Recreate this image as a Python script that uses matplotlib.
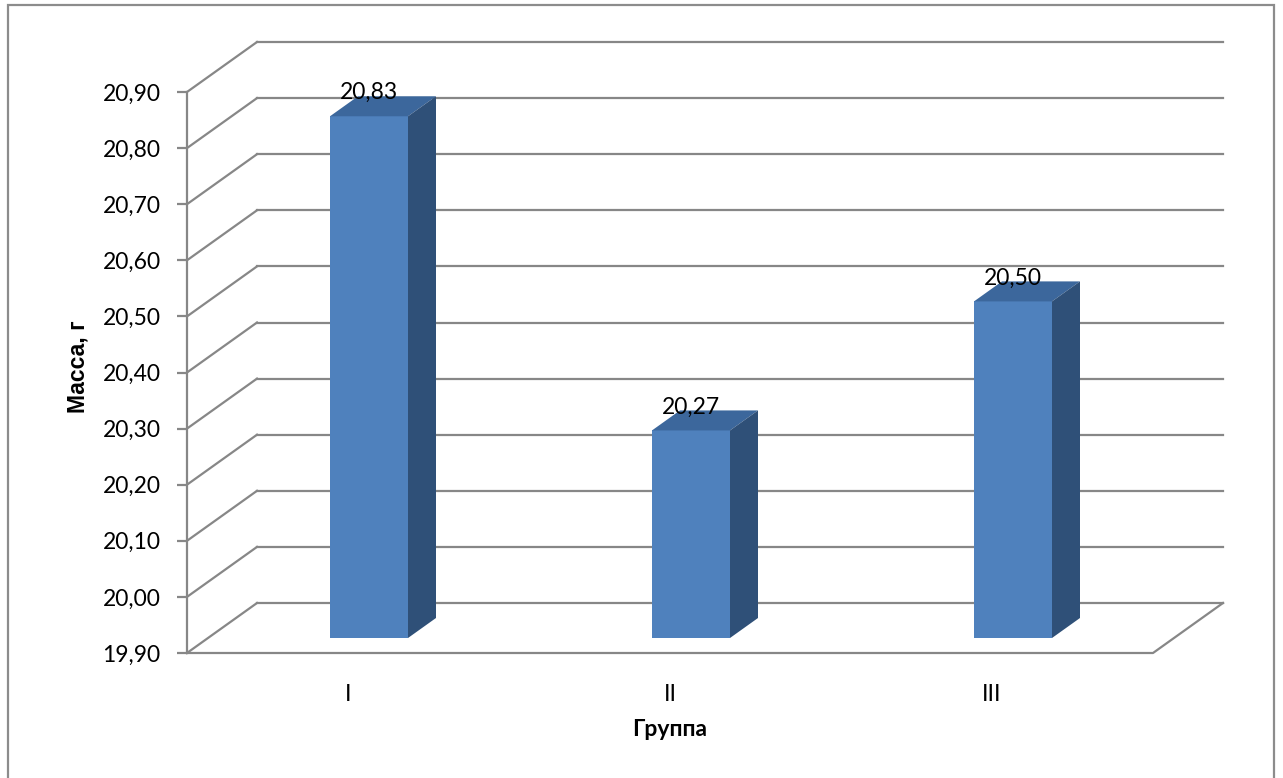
import matplotlib
matplotlib.use("Agg")
import matplotlib.pyplot as plt
from matplotlib.patches import Polygon, Rectangle

plt.rcParams["font.family"] = ["Lato", "DejaVu Sans"]

groups = ["I", "II", "III"]
masses = [20.83, 20.27, 20.50]
y_ticks = [19.90, 20.00, 20.10, 20.20, 20.30, 20.40, 20.50, 20.60, 20.70, 20.80, 20.90]
y_min, y_max = 19.90, 20.90

W, H = 1283, 778
fig = plt.figure(figsize=(W / 100, H / 100), dpi=100)

# front plane of the 3d box, in pixels
left, right, top, bottom = 187, 1153, 92, 653
ax = fig.add_axes([left / W, 1 - bottom / H, (right - left) / W, (bottom - top) / H])
n = len(groups)
ax.set_xlim(0, n)
ax.set_ylim(y_min, y_max)

# depth offset (back wall vs front plane) in data units
DX = 70 * n / (right - left)
DY = 50 * (y_max - y_min) / (bottom - top)

grid_c = "#878787"
lw = 1.6
fs = 16.5

# back wall grid and left wall diagonals
for v in y_ticks:
    ax.plot([DX, n + DX], [v + DY, v + DY], color=grid_c, lw=lw, clip_on=False, zorder=1)
    ax.plot([0, DX], [v, v + DY], color=grid_c, lw=lw, clip_on=False, zorder=1)
# floor front and right edge
ax.plot([0, n, n + DX], [y_min, y_min, y_min + DY], color=grid_c, lw=lw, clip_on=False, zorder=1)

front_c = "#4F81BD"
top_c = "#3C679C"
side_c = "#2F5078"
bw = 78 / 322
d0, d1 = 0.3, 0.7
for i, v in enumerate(masses):
    c = i + 0.5
    x0 = c - bw / 2 + d0 * DX
    x1 = c + bw / 2 + d0 * DX
    yb = y_min + d0 * DY
    yt = v + d0 * DY
    ddx = (d1 - d0) * DX
    ddy = (d1 - d0) * DY
    ax.add_patch(Polygon([(x0, yb), (x1, yb), (x1, yt), (x0, yt)], closed=True,
                         facecolor=front_c, edgecolor="none", clip_on=False, zorder=3))
    ax.add_patch(Polygon([(x0, yt), (x1, yt), (x1 + ddx, yt + ddy), (x0 + ddx, yt + ddy)], closed=True,
                         facecolor=top_c, edgecolor="none", clip_on=False, zorder=3))
    ax.add_patch(Polygon([(x1, yb), (x1 + ddx, yb + ddy), (x1 + ddx, yt + ddy), (x1, yt)], closed=True,
                         facecolor=side_c, edgecolor="none", clip_on=False, zorder=3))
    ax.text(c + 0.3 * DX, v + 0.64 * DY, "{:.2f}".format(v).replace(".", ","),
            ha="center", va="baseline", fontsize=fs, color="black", zorder=4)

for s in ["top", "right", "bottom"]:
    ax.spines[s].set_visible(False)
ax.spines["left"].set_color(grid_c)
ax.spines["left"].set_linewidth(lw)
ax.set_yticks(y_ticks)
ax.set_yticklabels(["{:.2f}".format(t).replace(".", ",") for t in y_ticks], fontsize=fs)
ax.tick_params(axis="y", direction="out", length=7, width=lw, color=grid_c, pad=12)
ax.set_xticks([i + 0.5 for i in range(n)])
ax.set_xticklabels(groups, fontsize=fs)
ax.tick_params(axis="x", length=0, pad=22)
ax.patch.set_visible(False)

fig.text(78 / W, 1 - 367 / H, "Масса, г", rotation=90, ha="center", va="center",
         fontsize=fs, fontweight="bold", family=["Liberation Sans", "DejaVu Sans"])
fig.text(670 / W, 1 - 729 / H, "Группа", ha="center", va="center",
         fontsize=fs, fontweight="bold")

fig.patches.append(Rectangle((8 / W, -0.05), (1274 - 8) / W, 1.05 - 5 / H,
                             transform=fig.transFigure, fill=False,
                             edgecolor="#8C8C8C", lw=1.6))

fig.savefig("out.png", dpi=100)
